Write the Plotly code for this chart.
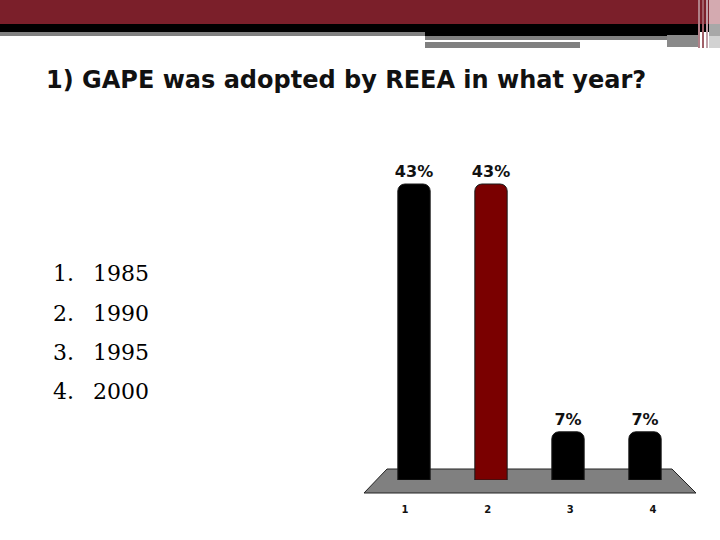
import plotly.graph_objects as go

# ---- data ----
categories = ["1", "2", "3", "4"]
values = [43, 43, 7, 7]
bar_colors = ["#000000", "#7a0000", "#000000", "#000000"]
years = ["1985", "1990", "1995", "2000"]
title_text = "1) GAPE was adopted by REEA in what year?"

W, H = 720, 540
def px(x):
    return x / W
def py(y):
    return 1 - y / H

fig = go.Figure()
fig.add_trace(go.Bar(
    x=categories, y=values,
    marker=dict(color=bar_colors, line=dict(color="#1a1a1a", width=1), cornerradius=7),
    width=0.42,
    texttemplate="%{y}%", textposition="outside", constraintext="none",
    textfont=dict(family="DejaVu Sans", size=16, color="#111111", weight="bold"),
    cliponaxis=False, xaxis="x", yaxis="y", showlegend=False,
))
# invisible trace for shifted category tick labels (perspective floor)
fig.add_trace(go.Scatter(x=categories, y=[0]*4, mode="markers", marker=dict(opacity=0),
                         xaxis="x2", yaxis="y2", showlegend=False, hoverinfo="skip"))

shapes = []
def rect(x0, y0, x1, y1, color):
    shapes.append(dict(type="rect", xref="paper", yref="paper", x0=px(x0), x1=px(x1),
                       y0=py(y1), y1=py(y0), fillcolor=color, line=dict(width=0), layer="above"))

# header bands
rect(0, 0, 720, 24, "#7b1f2a")
rect(0, 24, 720, 32, "#000000")
rect(0, 32, 425, 36, "#808080")
rect(425, 32, 698, 36, "#000000")
rect(425, 36, 667, 40, "#808080")
rect(425, 42, 580, 48, "#808080")
rect(667, 35, 698, 47, "#8a8a8a")
rect(709, 0, 720, 24, "#d4aab0")
rect(709, 24, 720, 36, "#a8a8a8")
rect(709, 36, 720, 48, "#d2d2d2")
rect(698, 0, 700, 48, "#b08088")
rect(702, 0, 704, 48, "#a06068")
rect(706, 0, 708, 48, "#c0a0a8")

# floor
floor_pts = [(387, 469), (672, 469), (696, 493), (364, 493)]
path = "M " + " L ".join(f"{px(x)},{py(y)}" for x, y in floor_pts) + " Z"
shapes.append(dict(type="path", xref="paper", yref="paper", path=path,
                   fillcolor="#808080", line=dict(color="#222222", width=1), layer="below"))

annotations = [dict(text=title_text, xref="paper", yref="paper", x=px(44), y=py(80),
                    xanchor="left", yanchor="middle", showarrow=False,
                    font=dict(family="DejaVu Sans", size=24, color="#111111", weight="bold"))]
row_y = [273, 313, 352, 391]
for i, yr in enumerate(years):
    annotations.append(dict(text=f"{i+1}.", xref="paper", yref="paper", x=px(51), y=py(row_y[i]),
                            xanchor="left", yanchor="middle", showarrow=False,
                            font=dict(family="DejaVu Serif", size=22, color="#000000")))
    annotations.append(dict(text=yr, xref="paper", yref="paper", x=px(91), y=py(row_y[i]),
                            xanchor="left", yanchor="middle", showarrow=False,
                            font=dict(family="DejaVu Serif", size=22, color="#000000")))

y0_px, ytop_px = 480, 184
scale = (y0_px - ytop_px) / 43
ymax = 50
fig.update_layout(
    width=W, height=H, autosize=False,
    margin=dict(l=0, r=0, t=0, b=0),
    paper_bgcolor="white", plot_bgcolor="rgba(0,0,0,0)",
    xaxis=dict(domain=[px(375.5), px(683.5)], range=[-0.5, 3.5], showticklabels=False,
               showgrid=False, zeroline=False, showline=False, fixedrange=True),
    yaxis=dict(domain=[py(y0_px), py(y0_px - ymax * scale)], range=[0, ymax], visible=False,
               fixedrange=True),
    xaxis2=dict(domain=[px(363.7), px(694.3)], range=[-0.5, 3.5], anchor="y2",
                showgrid=False, zeroline=False, showline=False, ticks="",
                tickfont=dict(family="DejaVu Sans", size=10, color="#111111", weight="bold")),
    yaxis2=dict(domain=[py(502), py(498)], visible=False, anchor="x2"),
    shapes=shapes, annotations=annotations,
)
fig.write_html("out.html")
